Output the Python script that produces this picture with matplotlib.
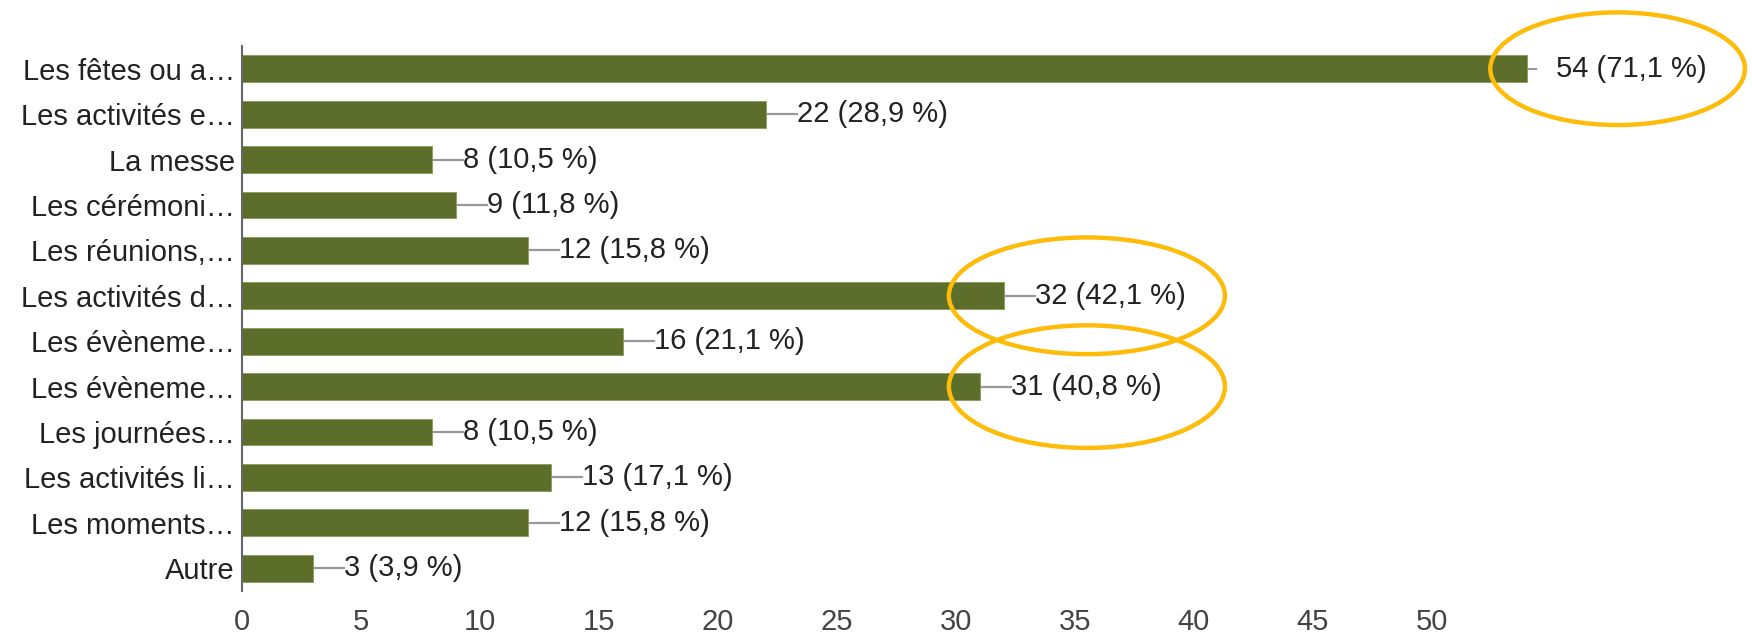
#!/usr/bin/env python3

import numpy as np
import matplotlib
matplotlib.use('Agg')
import matplotlib.pyplot as plt
from matplotlib.patches import Ellipse
from matplotlib import rcParams
rcParams['font.family'] = ['Liberation Sans', 'DejaVu Sans']

labels = ['Les fêtes ou a…', 'Les activités e…', 'La messe', 'Les cérémoni…',
          'Les réunions,…', 'Les activités d…', 'Les évèneme…', 'Les évèneme…',
          'Les journées…', 'Les activités li…', 'Les moments…', 'Autre']
counts = [54, 22, 8, 9, 12, 32, 16, 31, 8, 13, 12, 3]
percents = ['71,1', '28,9', '10,5', '11,8', '15,8', '42,1', '21,1', '40,8',
            '10,5', '17,1', '15,8', '3,9']
xticks = list(range(0, 55, 5))

# highlighted rows: (row index, ellipse centre x, width, height) in data units
highlights = [(0, 57.8, 10.7, 2.48), (5, 35.5, 11.6, 2.57), (7, 35.5, 11.6, 2.7)]

W, H = 1752, 634
fig = plt.figure(figsize=(W/100, H/100), dpi=100)
ax = fig.add_axes([242/W, (H-591)/H, 1 - 242/W, (591-46)/H])

bar_color = '#5d6e2b'
txt_color = '#222222'
fs = 21
y = np.arange(len(labels))
ax.barh(y, counts, height=0.59, color=bar_color, edgecolor='#8a9a5a', linewidth=0.6, zorder=2)

for i, (c, p) in enumerate(zip(counts, percents)):
    if i == 0:
        ax.plot([c, c+0.35], [i, i], color='#999999', lw=1.5, zorder=1, clip_on=False)
        tx = c + 1.2
    else:
        ax.plot([c, c+1.3], [i, i], color='#999999', lw=1.6, zorder=1, clip_on=False)
        tx = c + 1.3
    ax.text(tx, i, f'{c} ({p} %)', va='center', ha='left', fontsize=fs,
            color=txt_color, clip_on=False)

for i, cx, w, h in highlights:
    ax.add_patch(Ellipse((cx, i), w, h, fill=False, edgecolor='#FDBB0A',
                         lw=3.2, zorder=5, clip_on=False))

ax.set_xlim(0, (W-242)/23.8)
ax.set_ylim(len(labels)-0.5, -0.5)
ax.set_yticks(y)
ax.set_yticklabels(labels, fontsize=fs, color=txt_color)
ax.set_xticks(xticks)
ax.set_xticklabels([str(t) for t in xticks], fontsize=fs, color='#444444')
ax.tick_params(axis='both', length=0)
ax.tick_params(axis='y', pad=5)
ax.tick_params(axis='x', pad=12)
for s in ['top', 'right', 'bottom']:
    ax.spines[s].set_visible(False)
ax.spines['left'].set_color('#666666')
ax.spines['left'].set_linewidth(1.5)
ax.spines['left'].set_zorder(3)

plt.savefig('out.png', dpi=100)
